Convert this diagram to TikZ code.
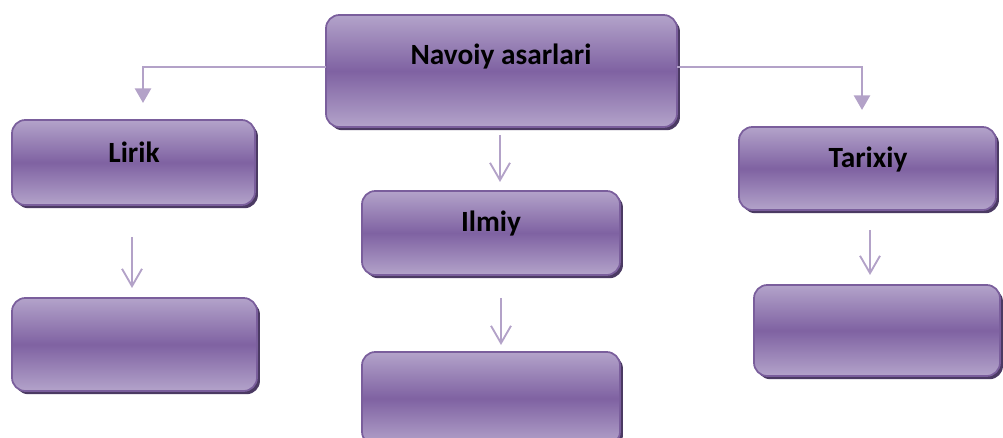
\documentclass[tikz,border=0pt]{standalone}
\usepackage{fontspec}
\setmainfont{Carlito}
\usetikzlibrary{arrows.meta,shadows}
\definecolor{lightp}{HTML}{B3A3CA}
\definecolor{darkp}{HTML}{7F62A2}
\definecolor{edgep}{HTML}{7A5E9C}
\definecolor{shadp}{HTML}{4B3A63}
\definecolor{linep}{HTML}{B3A2C8}
\tikzset{
  box/.style={rectangle, rounded corners=10pt, draw=edgep, line width=1.3pt,
    top color=lightp, bottom color=lightp, middle color=darkp,
    inner sep=0pt, outer sep=0pt,
    general shadow={fill=shadp, shadow xshift=2.2pt, shadow yshift=-2.4pt}},
  lbl/.style={anchor=base, inner sep=0pt, font=\fontsize{22}{25}\selectfont\bfseries, text=black},
  elbow/.style={draw=linep, line width=2pt, -{Triangle[width=12pt,length=11pt]}},
  down/.style={draw=linep, line width=1.4pt, -{Straight Barb[width=15pt,length=13pt,line width=1.4pt]}}
}
\begin{document}
\begin{tikzpicture}[x=0.75pt,y=-0.75pt]
\useasboundingbox (0,0) rectangle (1003,438);
\clip (0,0) rectangle (1003,438);
% boxes
\node[box, minimum width=263.25pt, minimum height=84pt] (top) at (501.5,71) {};
\node[box, minimum width=182.25pt, minimum height=63.75pt] (lirik) at (133.5,162.5) {};
\node[box, minimum width=183.75pt, minimum height=69.75pt] (lirikb) at (134.5,344.5) {};
\node[box, minimum width=193.5pt, minimum height=63pt] (ilmiy) at (491,233) {};
\node[box, minimum width=193.5pt, minimum height=69.75pt] (ilmiyb) at (491,398.5) {};
\node[box, minimum width=192.75pt, minimum height=62.25pt] (tarixiy) at (867.5,168.5) {};
\node[box, minimum width=184.5pt, minimum height=68.25pt] (tarixiyb) at (877,330.5) {};
% labels
\node[lbl] (ttop) at (501,65) {Navoiy asarlari};
\node[lbl] (tlirik) at (134,163) {Lirik};
\node[lbl] (tilmiy) at (491,232) {Ilmiy};
\node[lbl] (ttarixiy) at (868,168) {Tarixiy};
% connector end points
\coordinate (tl) at (326,67);
\coordinate (tr) at (677,67);
\coordinate (la) at (143,103);
\coordinate (ra) at (862,110);
\draw[elbow] (tl) -| (la);
\draw[elbow] (tr) -| (ra);
% down arrows
\coordinate (a1s) at (500,135); \coordinate (a1e) at (500,182);
\coordinate (a2s) at (132,237); \coordinate (a2e) at (132,288);
\coordinate (a3s) at (501,298); \coordinate (a3e) at (501,345);
\coordinate (a4s) at (870,230); \coordinate (a4e) at (870,275);
\draw[down] (a1s) -- (a1e);
\draw[down] (a2s) -- (a2e);
\draw[down] (a3s) -- (a3e);
\draw[down] (a4s) -- (a4e);
\end{tikzpicture}
\end{document}
